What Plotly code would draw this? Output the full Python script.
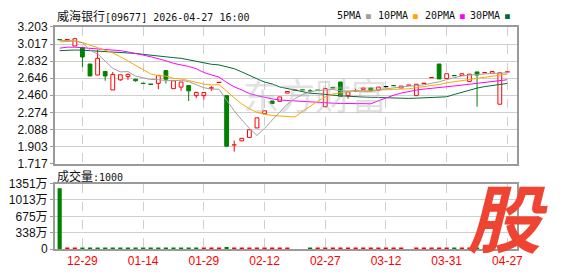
import plotly.graph_objects as go
import pandas as pd

# ---------------- data ----------------
tick_idx = [3, 11, 19, 27, 35, 43, 51, 59]
tick_labels = ["12-29", "01-14", "01-29", "02-12", "02-27", "03-12", "03-31", "04-27"]

opens = [3.065, 3.065, 2.996, 2.979, 2.800, 2.680, 2.718, 2.518, 2.628, 2.663,
         2.635, 2.590, 2.580, 2.590, 2.728, 2.532, 2.549, 2.566, 2.456, 2.456,
         2.539, 2.601, 2.456, 1.920, 1.964, 2.002, 2.105, 2.260, 2.398, 2.394,
         2.484, 2.515, 2.518, 2.508, 2.515, 2.336, 2.542, 2.604, 2.456, 2.508,
         2.525, 2.539, 2.515, 2.553, 2.566, 2.539, 2.570, 2.456, 2.590, 2.652,
         2.800, 2.642, 2.673, 2.676, 2.611, 2.714, 2.707, 2.700, 2.363, 2.714]
highs = [3.065, 3.065, 3.082, 2.979, 2.800, 2.955, 2.718, 2.714, 2.683, 2.697,
         2.635, 2.590, 2.580, 2.676, 2.728, 2.618, 2.604, 2.566, 2.498, 2.491,
         2.559, 2.601, 2.456, 1.968, 1.992, 2.085, 2.215, 2.291, 2.398, 2.442,
         2.501, 2.515, 2.518, 2.525, 2.515, 2.532, 2.553, 2.604, 2.498, 2.532,
         2.539, 2.539, 2.549, 2.553, 2.566, 2.560, 2.570, 2.580, 2.590, 2.652,
         2.800, 2.694, 2.673, 2.694, 2.690, 2.714, 2.707, 2.718, 2.704, 2.714]
lows = [3.065, 3.065, 2.996, 2.766, 2.670, 2.680, 2.618, 2.518, 2.618, 2.628,
        2.608, 2.590, 2.580, 2.525, 2.587, 2.532, 2.508, 2.398, 2.429, 2.415,
        2.508, 2.601, 1.906, 1.847, 1.964, 2.002, 2.105, 2.260, 2.370, 2.394,
        2.484, 2.515, 2.518, 2.491, 2.515, 2.336, 2.542, 2.449, 2.422, 2.498,
        2.525, 2.511, 2.515, 2.553, 2.566, 2.539, 2.570, 2.456, 2.590, 2.652,
        2.638, 2.642, 2.673, 2.676, 2.611, 2.336, 2.707, 2.700, 2.363, 2.714]
closes = [3.065, 3.065, 3.075, 2.876, 2.670, 2.862, 2.670, 2.687, 2.683, 2.687,
          2.618, 2.590, 2.580, 2.676, 2.635, 2.618, 2.604, 2.508, 2.491, 2.491,
          2.539, 2.601, 1.906, 1.920, 1.992, 2.085, 2.215, 2.291, 2.370, 2.442,
          2.501, 2.515, 2.518, 2.508, 2.515, 2.532, 2.542, 2.449, 2.498, 2.508,
          2.539, 2.511, 2.549, 2.553, 2.566, 2.560, 2.570, 2.580, 2.590, 2.652,
          2.638, 2.694, 2.673, 2.694, 2.690, 2.680, 2.707, 2.718, 2.704, 2.714]
candle_dir = list("grrggrgrrr" "gggrgrrgrr" "rrgrrrrrgr" "rrgggrggrr"
                  "rgrkgrrrrr" "grgrrgrrrr")

# volume in 万
volumes = [1253, 20, 20, 20, 20, 20, 20, 20, 20, 20,
           20, 20, 20, 20, 20, 20, 20, 20, 20, 20,
           20, 20, 45, 20, 20, 20, 20, 20, 20, 20,
           20, 0, 0, 20, 20, 20, 20, 20, 20, 20,
           20, 20, 20, 20, 20, 20, 0, 20, 20, 20,
           20, 20, 20, 20, 20, 20, 20, 20, 20, 20]
vol_dir = list("grrggggggg" "gggggggggr" "rrgrrrrrrr" "rrrgrrrrrr"
               "rrrrrrrrrr" "rrgrrgrrrr")

# moving-average values read for the days whose window starts before the chart
ma5_lead = [3.058, 3.058, 3.051, 3.030]
ma10_lead = [3.041, 3.041, 3.048, 3.034, 3.007, 2.983, 2.955, 2.921, 2.879]
ma20_lead = [2.972, 2.983, 2.983, 2.976, 2.972, 2.969, 2.962, 2.955, 2.945, 2.931,
             2.910, 2.897, 2.879, 2.859, 2.835, 2.807, 2.793, 2.773, 2.749]
ma30_lead = [2.945, 2.952, 2.952, 2.950, 2.945, 2.945, 2.940, 2.933, 2.928, 2.921,
             2.915, 2.905, 2.895, 2.885, 2.872, 2.869, 2.862, 2.845, 2.824, 2.807,
             2.797, 2.790, 2.773, 2.749, 2.714, 2.673, 2.639, 2.604, 2.583]

price_ticks = [1.717, 1.903, 2.088, 2.274, 2.460, 2.646, 2.832, 3.017, 3.203]
vol_ticks = [0, 338, 675, 1013, 1351]
vol_tick_text = ["0", "338万", "675万", "1013万", "1351万"]

# ---------------- styling ----------------
RED = "#FF0000"
GREEN = "#008000"
BLACK = "#000000"
col = {"r": RED, "g": GREEN, "k": BLACK}
MA_COL = {"5": "#A0A0A0", "10": "#FFA500", "20": "#FF00FF", "30": "#006B35"}
GRID = "#CFCFCF"
FRAME = "#9A9A9A"
LAB_FONT = dict(family="Liberation Sans, Arial, Noto Sans CJK SC", size=12, color="#111111")

n = len(closes)
idx = list(range(n))
s = pd.Series(closes)


def ma(period, lead):
    m = s.rolling(period).mean().round(4).tolist()
    return lead + m[len(lead):]


fig = go.Figure()

# wicks (upper and lower parts, so that hollow bodies stay hollow)
for c in ["r", "g", "k"]:
    wx, wy = [], []
    for i in idx:
        if candle_dir[i] != c:
            continue
        top, bot = max(opens[i], closes[i]), min(opens[i], closes[i])
        if highs[i] > top:
            wx += [i, i, None]
            wy += [top, highs[i], None]
        if lows[i] < bot:
            wx += [i, i, None]
            wy += [lows[i], bot, None]
    if wx:
        fig.add_trace(go.Scatter(x=wx, y=wy, mode="lines", line=dict(color=col[c], width=1),
                                 hoverinfo="skip", showlegend=False, xaxis="x", yaxis="y"))

# bodies
up = [i for i in idx if closes[i] > opens[i]]
dn = [i for i in idx if closes[i] < opens[i]]
fig.add_trace(go.Bar(x=up, y=[closes[i] - opens[i] for i in up], base=[opens[i] for i in up],
                     width=0.5, marker=dict(color="white", line=dict(color=RED, width=1)),
                     showlegend=False, xaxis="x", yaxis="y"))
fig.add_trace(go.Bar(x=dn, y=[opens[i] - closes[i] for i in dn], base=[closes[i] for i in dn],
                     width=0.5, marker=dict(color=GREEN, line=dict(color=GREEN, width=1)),
                     showlegend=False, xaxis="x", yaxis="y"))

# flat candles as dashes
for c in ["r", "g", "k"]:
    fx, fy = [], []
    for i in idx:
        if closes[i] == opens[i] and candle_dir[i] == c:
            fx += [i - 0.3, i + 0.3, None]
            fy += [closes[i], closes[i], None]
    if fx:
        fig.add_trace(go.Scatter(x=fx, y=fy, mode="lines", line=dict(color=col[c], width=1.3),
                                 hoverinfo="skip", showlegend=False, xaxis="x", yaxis="y"))

# moving averages
for key, lead in [("30", ma30_lead), ("20", ma20_lead), ("10", ma10_lead), ("5", ma5_lead)]:
    fig.add_trace(go.Scatter(x=idx, y=ma(int(key), lead), mode="lines",
                             line=dict(color=MA_COL[key], width=1),
                             showlegend=False, xaxis="x", yaxis="y"))

# volume
fig.add_trace(go.Bar(x=idx, y=volumes, width=0.55,
                     marker=dict(color=[col[d] for d in vol_dir], line=dict(width=0)),
                     showlegend=False, xaxis="x2", yaxis="y2"))

W, H = 578, 276
x0, x1 = 55.3 / W, 522.7 / W
xr = [-0.65, 60.3]

common_x = dict(range=xr, tickvals=tick_idx, showgrid=True, gridcolor=GRID, griddash="dash",
                gridwidth=1, zeroline=False, showline=True, mirror=True, linecolor=FRAME,
                linewidth=1.5, ticks="", fixedrange=True)

fig.update_layout(
    width=W, height=H, margin=dict(l=0, r=0, t=0, b=0),
    paper_bgcolor="white", plot_bgcolor="white", barmode="overlay",
    xaxis=dict(domain=[x0, x1], anchor="y", showticklabels=False, **common_x),
    yaxis=dict(domain=[1 - 165 / H, 1 - 21 / H], range=[1.717, 3.203], tickvals=price_ticks,
               ticktext=[f"{v:.3f}" for v in price_ticks], showgrid=True, gridcolor=GRID,
               gridwidth=1, zeroline=False, showline=True, mirror=True, linecolor=FRAME,
               linewidth=1.5, ticks="outside", ticklen=3, tickcolor=FRAME,
               tickfont=LAB_FONT, anchor="x"),
    xaxis2=dict(domain=[x0, x1], anchor="y2", showticklabels=True, ticktext=tick_labels,
                tickfont=dict(family="Liberation Sans, Arial", size=12, color=RED), **common_x),
    yaxis2=dict(domain=[1 - 255 / H, 1 - 186 / H], range=[0, 1351], tickvals=vol_ticks,
                ticktext=vol_tick_text, showgrid=True, gridcolor=GRID, gridwidth=1,
                zeroline=False, showline=True, mirror=True, linecolor=FRAME, linewidth=1.5,
                ticks="outside", ticklen=3, tickcolor=FRAME, tickfont=LAB_FONT, anchor="x2"),
)

CJK = "Noto Sans CJK SC"
MONO = "DejaVu Sans Mono"
ann = []
# watermark in price panel
ann.append(dict(xref="paper", yref="paper", x=318 / W, y=1 - 92 / H, text="东方财富",
                showarrow=False, font=dict(family=CJK, size=36, color="rgba(175,175,175,0.38)"),
                xanchor="center", yanchor="middle"))
# big logo bottom right
ann.append(dict(xref="paper", yref="paper", x=513 / W, y=1 - 219 / H, text="<b><i>股</i></b>",
                showarrow=False, font=dict(family=CJK, size=74, color="#EE4431"),
                xanchor="center", yanchor="middle"))
# title
ann.append(dict(xref="paper", yref="paper", x=56 / W, y=1 - 9 / H,
                text=f"威海银行<span style='font-family:{MONO};font-size:10px'>[09677] 2026-04-27 16:00</span>",
                showarrow=False, font=dict(family=CJK, size=12, color="#111111"),
                xanchor="left", yanchor="middle"))
# volume title
ann.append(dict(xref="paper", yref="paper", x=56 / W, y=1 - 177 / H,
                text=f"成交量<span style='font-family:{MONO};font-size:10px'>:1000</span>",
                showarrow=False, font=dict(family=CJK, size=12, color="#111111"),
                xanchor="left", yanchor="middle"))
# MA legend
for key, xpos in [("5", 339), ("10", 380), ("20", 427), ("30", 473)]:
    ann.append(dict(xref="paper", yref="paper", x=xpos / W, y=1 - 9 / H,
                    text=f"{key}PMA<span style='font-size:8px;color:{MA_COL[key]}'> ■</span>",
                    showarrow=False, font=dict(family=MONO, size=10, color="#111111"),
                    xanchor="left", yanchor="middle"))
fig.update_layout(annotations=ann)

fig.write_html("out.html")
